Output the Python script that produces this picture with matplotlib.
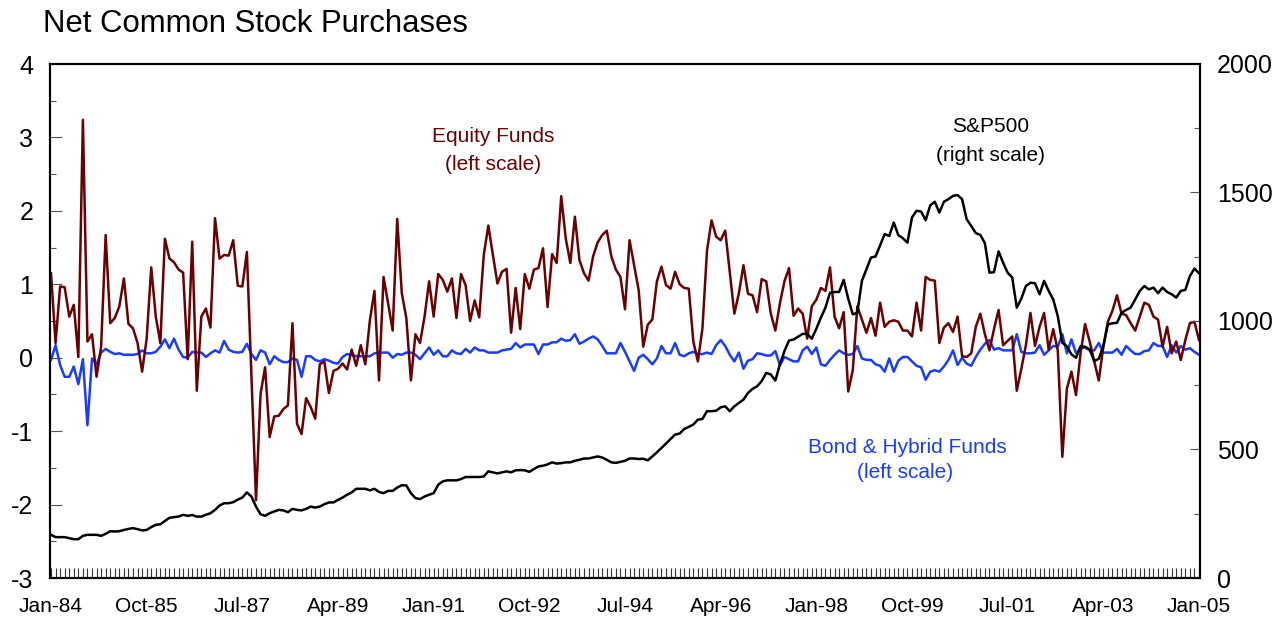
import numpy as np
import matplotlib
matplotlib.use("Agg")
import matplotlib.pyplot as plt

plt.rcParams['font.family'] = ['Liberation Sans', 'DejaVu Sans']

# x tick labels (every 21 months, Jan-84 .. Jan-05)
tick_labels = ["Jan-84", "Oct-85", "Jul-87", "Apr-89", "Jan-91", "Oct-92", "Jul-94",
               "Apr-96", "Jan-98", "Oct-99", "Jul-01", "Apr-03", "Jan-05"]
left_labels = ["-3", "-2", "-1", "0", "1", "2", "3", "4"]
right_labels = ["0", "500", "1000", "1500", "2000"]

# Equity funds, monthly Jan-84 .. Jan-05 (left scale)
equity = [
    1.15, 0.2, 0.97, 0.96, 0.56, 0.72, 0.01, 3.24, 0.22, 0.32,
    -0.26, 0.15, 1.67, 0.47, 0.54, 0.7, 1.08, 0.46, 0.4, 0.2,
    -0.19, 0.26, 1.23, 0.56, 0.2, 1.62, 1.35, 1.3, 1.2, 1.16,
    -0.02, 1.58, -0.45, 0.56, 0.67, 0.41, 1.9, 1.35, 1.4, 1.39,
    1.6, 0.98, 0.97, 1.44, -0.25, -1.94, -0.49, -0.13, -1.08, -0.8,
    -0.79, -0.7, -0.65, 0.47, -0.9, -1.04, -0.55, -0.67, -0.83, -0.09,
    -0.05, -0.48, -0.18, -0.15, -0.08, -0.16, 0.11, -0.11, 0.17, -0.09,
    0.51, 0.91, -0.31, 1.1, 0.74, 0.37, 1.89, 0.88, 0.54, -0.31,
    0.32, 0.2, 0.56, 1.04, 0.56, 1.14, 1.06, 0.9, 1.08, 0.54,
    1.14, 0.99, 0.5, 0.78, 0.55, 1.4, 1.8, 1.4, 1.01, 1.17,
    1.21, 0.34, 0.95, 0.39, 1.14, 0.94, 1.2, 1.22, 1.49, 0.69,
    1.41, 1.29, 2.2, 1.62, 1.29, 1.92, 1.33, 1.15, 1.05, 1.38,
    1.57, 1.67, 1.73, 1.38, 1.2, 1.1, 0.66, 1.6, 1.26, 0.92,
    0.15, 0.45, 0.52, 1.04, 1.24, 0.99, 0.94, 1.17, 1.0, 0.95,
    0.94, 0.22, -0.05, 0.4, 1.46, 1.87, 1.65, 1.6, 1.73, 1.17,
    0.6, 0.88, 1.26, 0.87, 0.85, 0.62, 1.07, 1.04, 0.6, 0.37,
    0.74, 1.04, 1.22, 0.57, 0.67, 0.6, 0.26, 0.7, 0.79, 0.95,
    0.91, 1.23, 0.56, 0.4, 0.62, -0.46, -0.17, 0.7, 0.52, 0.34,
    0.54, 0.3, 0.75, 0.42, 0.49, 0.51, 0.49, 0.37, 0.37, 0.29,
    0.75, 0.37, 1.1, 1.06, 1.05, 0.2, 0.41, 0.47, 0.35, 0.56,
    0.02, 0.01, 0.06, 0.42, 0.6, 0.32, 0.1, 0.39, 0.65, 0.17,
    0.23, 0.29, -0.45, -0.15, 0.17, 0.61, 0.16, 0.42, 0.61, 0.11,
    0.39, 0.1, -1.35, -0.42, -0.19, -0.51, 0.06, 0.46, 0.22, -0.05,
    -0.31, 0.15, 0.49, 0.64, 0.85, 0.6, 0.58, 0.47, 0.37, 0.56,
    0.75, 0.72, 0.56, 0.52, 0.15, 0.42, 0.06, 0.22, -0.03, 0.24,
    0.47, 0.49, 0.24,
]

# Bond & hybrid funds (left scale)
bond = [
    -0.03, 0.17, -0.1, -0.26, -0.26, -0.12, -0.36, -0.02, -0.92, -0.01,
    -0.09, 0.07, 0.12, 0.08, 0.05, 0.06, 0.04, 0.04, 0.04, 0.05,
    0.1, 0.06, 0.06, 0.08, 0.15, 0.25, 0.13, 0.26, 0.11, 0.01,
    0.0, 0.08, 0.07, 0.07, 0.01, 0.06, 0.1, 0.07, 0.23, 0.11,
    0.08, 0.07, 0.08, 0.19, 0.05, -0.03, 0.1, 0.07, -0.09, 0.02,
    -0.03, -0.06, -0.06, -0.01, -0.03, -0.26, 0.02, 0.02, -0.03, -0.05,
    -0.02, -0.04, -0.07, -0.08, 0.01, 0.05, 0.04, 0.02, 0.02, 0.02,
    0.02, 0.06, 0.07, 0.07, 0.07, 0.0, 0.05, 0.04, 0.07, 0.07,
    0.04, -0.02, 0.06, 0.14, 0.04, 0.1, 0.02, 0.02, 0.1, 0.06,
    0.05, 0.12, 0.07, 0.14, 0.1, 0.1, 0.07, 0.07, 0.07, 0.1,
    0.11, 0.12, 0.2, 0.14, 0.18, 0.18, 0.18, 0.05, 0.18, 0.18,
    0.21, 0.21, 0.26, 0.23, 0.24, 0.32, 0.19, 0.22, 0.26, 0.29,
    0.25, 0.16, 0.06, 0.06, 0.06, 0.2, 0.08, -0.05, -0.18, 0.0,
    0.04, -0.02, -0.09, -0.01, 0.16, 0.06, 0.06, 0.2, 0.04, 0.02,
    0.06, 0.08, 0.05, 0.05, 0.07, 0.05, 0.17, 0.24, 0.16, 0.04,
    -0.05, 0.07, -0.15, -0.04, -0.02, 0.06, 0.05, 0.03, 0.03, 0.09,
    -0.1, 0.01, -0.02, -0.05, -0.05, 0.1, 0.15, 0.05, 0.14, -0.09,
    -0.11, -0.03, 0.04, 0.1, 0.06, 0.04, 0.05, 0.16, -0.01, -0.03,
    -0.03, -0.09, -0.11, -0.19, -0.01, -0.19, -0.04, 0.01, 0.01, -0.05,
    -0.11, -0.13, -0.3, -0.19, -0.17, -0.19, -0.12, -0.03, 0.1, -0.1,
    0.0, -0.08, -0.11, 0.01, 0.11, 0.19, 0.24, 0.11, 0.13, 0.1,
    0.1, 0.1, 0.32, 0.08, 0.06, 0.06, 0.07, 0.17, 0.04, 0.1,
    0.16, 0.15, 0.32, 0.06, 0.25, 0.06, 0.13, 0.14, 0.1, 0.1,
    0.2, 0.07, 0.07, 0.07, 0.12, 0.04, 0.16, 0.1, 0.05, 0.05,
    0.09, 0.1, 0.2, 0.16, 0.16, 0.01, 0.17, 0.07, 0.16, 0.11,
    0.13, 0.08, 0.04,
]

# S&P500 (right scale)
sp500 = [
    168, 159, 159, 159, 155, 151, 151, 164, 168, 168,
    168, 164, 172, 182, 181, 182, 187, 191, 194, 190,
    185, 187, 198, 207, 209, 222, 234, 237, 239, 246,
    242, 245, 239, 239, 246, 252, 265, 282, 291, 291,
    295, 305, 313, 333, 317, 278, 248, 242, 252, 259,
    265, 263, 256, 269, 265, 263, 269, 278, 274, 278,
    287, 294, 294, 304, 313, 324, 333, 347, 347, 347,
    341, 347, 335, 330, 339, 339, 352, 361, 360, 330,
    311, 307, 317, 324, 330, 363, 376, 380, 380, 380,
    385, 393, 393, 393, 393, 395, 415, 411, 407, 411,
    415, 411, 419, 420, 419, 413, 424, 434, 437, 442,
    450, 445, 447, 450, 450, 456, 460, 465, 465, 469,
    473, 469, 460, 450, 448, 452, 456, 465, 465, 463,
    464, 458, 473, 489, 506, 523, 541, 558, 562, 580,
    588, 597, 616, 619, 649, 649, 651, 664, 668, 649,
    668, 681, 694, 720, 736, 746, 766, 798, 792, 768,
    831, 883, 924, 928, 939, 950, 950, 931, 970, 1013,
    1052, 1110, 1113, 1113, 1160, 1087, 1026, 1032, 1156, 1201,
    1247, 1251, 1295, 1338, 1331, 1383, 1334, 1322, 1305, 1403,
    1429, 1426, 1392, 1450, 1464, 1422, 1464, 1474, 1487, 1490,
    1474, 1396, 1370, 1342, 1335, 1303, 1188, 1190, 1271, 1227,
    1188, 1169, 1052, 1087, 1136, 1149, 1147, 1104, 1156, 1117,
    1084, 1019, 915, 902, 870, 857, 902, 900, 889, 844,
    853, 902, 987, 991, 993, 1032, 1043, 1052, 1084, 1117,
    1136, 1123, 1130, 1108, 1130, 1113, 1104, 1091, 1117, 1121,
    1175, 1204, 1186,
]

W, H = 1283, 619
fig = plt.figure(figsize=(W / 100, H / 100), dpi=100)
ax = fig.add_axes([50 / W, 41 / H, 1150 / W, 514 / H])

months = np.arange(len(equity))
EQ_COLOR = '#6B0000'
BOND_COLOR = '#1A3CFF'

ax.plot(months, bond, color=BOND_COLOR, lw=1.8, zorder=2)
ax.plot(months, equity, color=EQ_COLOR, lw=1.8, zorder=3)
ax.set_xlim(-0.22, len(equity) - 1 + 0.22)
ax.set_ylim(-3, 4)

ax2 = ax.twinx()
ax2.plot(months, sp500, color='black', lw=1.8, zorder=3)
ax2.set_ylim(0, 2000)
ax2.set_xlim(ax.get_xlim())

for a in (ax, ax2):
    for s in a.spines.values():
        s.set_linewidth(1.5)
        s.set_color('black')

# x ticks
ax.set_xticks(np.arange(0, len(equity), 21))
ax.set_xticklabels(tick_labels)
ax.set_xticks(months, minor=True)
ax.tick_params(axis='x', which='both', direction='in', length=7, width=0.8,
               color='#333333', top=False)
ax.tick_params(axis='x', which='major', labelsize=15, pad=14)

# left y ticks
ax.set_yticks(np.arange(-3, 5))
ax.set_yticklabels(left_labels)
ax.set_yticks(np.arange(-2.5, 4, 1.0), minor=True)
ax.tick_params(axis='y', which='major', direction='in', length=8.6, width=0.8,
               color='#555555', labelsize=18, pad=12)
ax.tick_params(axis='y', which='minor', direction='in', length=4.3, width=0.8,
               color='#555555')

# right y ticks
ax2.set_yticks(np.arange(0, 2001, 500))
ax2.set_yticklabels(right_labels)
ax2.set_yticks(np.arange(250, 2000, 500), minor=True)
ax2.tick_params(axis='y', which='major', direction='in', length=7, width=0.8,
                color='#555555', labelsize=18, pad=12)
ax2.tick_params(axis='y', which='minor', direction='in', length=4, width=0.8,
                color='#555555')

# annotations
ax.text(97, 3.01, 'Equity Funds', color=EQ_COLOR, fontsize=15, ha='center', va='center')
ax.text(97, 2.63, '(left scale)', color=EQ_COLOR, fontsize=15, ha='center', va='center')
ax.text(206.3, 3.15, 'S&P500', color='black', fontsize=15, ha='center', va='center')
ax.text(206.3, 2.76, '(right scale)', color='black', fontsize=15, ha='center', va='center')
ax.text(187.9, -1.22, 'Bond & Hybrid Funds', color=BOND_COLOR, fontsize=15, ha='center', va='center')
ax.text(187.4, -1.57, '(left scale)', color=BOND_COLOR, fontsize=15, ha='center', va='center')

fig.text(43 / W, 1 - 32 / H, 'Net Common Stock Purchases', fontsize=22.4,
         ha='left', va='baseline')

fig.savefig('out.png', dpi=100)
